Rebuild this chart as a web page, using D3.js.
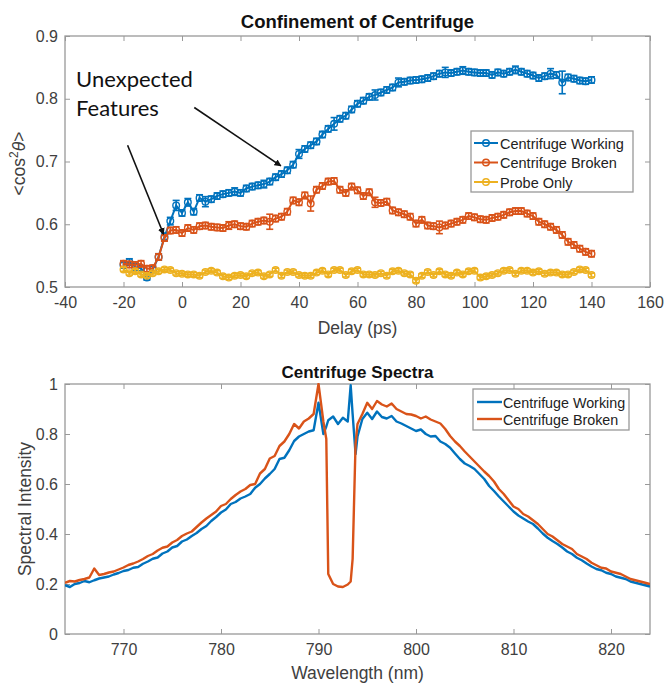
<!DOCTYPE html>
<html>
<head>
<meta charset="utf-8">
<script src="https://cdn.jsdelivr.net/npm/d3@7"></script>
<style>
  body { margin: 0; background: #fff; }
  svg { display: block; }
</style>
</head>
<body>
<div id="chart"></div>
<script>
// --- top panel: <cos^2 theta> vs delay ---
const delay = [-20, -18, -16, -14, -12, -10, -8, -6, -4, -2, 0, 2, 4, 6, 8, 10, 12, 14, 16, 18,
  20, 22, 24, 26, 28, 30, 32, 34, 36, 38, 40, 42, 44, 46, 48, 50, 52, 54, 56, 58,
  60, 62, 64, 66, 68, 70, 72, 74, 76, 78, 80, 82, 84, 86, 88, 90, 92, 94, 96, 98,
  100, 102, 104, 106, 108, 110, 112, 114, 116, 118, 120, 122, 124, 126, 128, 130, 132, 134, 136, 138, 140];

const working = [.535, .540, .532, .530, .515, .528, .548, .580, .605, .630, .618, .635, .620, .642, .636, .640, .645, .648, .650, .652,
  .650, .657, .660, .662, .664, .668, .675, .680, .686, .695, .712, .720, .726, .732, .743, .752, .760, .768, .773, .783,
  .792, .797, .803, .806, .810, .814, .818, .826, .827, .829, .830, .831, .833, .836, .840, .842, .841, .843, .845, .843,
  .842, .841, .841, .838, .842, .840, .843, .846, .843, .840, .837, .833, .836, .840, .838, .826, .834, .832, .829, .828, .830];
const workingErr = [.005, .005, .005, .004, .004, .005, .005, .006, .006, .008, .005, .006, .005, .005, .008, .005, .005, .005, .005, .006,
  .005, .005, .005, .005, .006, .005, .005, .005, .005, .005, .007, .005, .005, .005, .005, .005, .010, .005, .005, .005,
  .005, .005, .005, .008, .005, .005, .005, .007, .005, .005, .005, .005, .005, .005, .005, .008, .005, .005, .006, .005,
  .005, .005, .005, .005, .005, .005, .005, .006, .005, .005, .005, .005, .005, .008, .005, .018, .005, .005, .005, .005, .005];

const broken = [.537, .536, .535, .537, .529, .530, .548, .578, .590, .591, .586, .594, .591, .597, .598, .596, .595, .594, .598, .600,
  .597, .596, .601, .604, .606, .604, .609, .612, .620, .638, .635, .646, .633, .655, .661, .668, .669, .655, .650, .660,
  .654, .645, .651, .635, .634, .636, .622, .619, .616, .612, .601, .607, .598, .597, .595, .598, .601, .604, .607, .613,
  .611, .608, .607, .610, .612, .615, .619, .621, .621, .617, .613, .604, .600, .596, .591, .583, .572, .567, .561, .556, .553];
const brokenErr = [.005, .005, .005, .005, .005, .005, .005, .005, .005, .005, .005, .005, .005, .005, .005, .005, .005, .005, .006, .005,
  .005, .005, .005, .005, .005, .012, .005, .005, .005, .005, .005, .005, .012, .005, .005, .005, .005, .005, .005, .005,
  .005, .005, .005, .008, .005, .005, .005, .005, .005, .005, .005, .005, .005, .005, .010, .005, .005, .005, .005, .005,
  .005, .005, .005, .005, .005, .005, .005, .005, .005, .005, .005, .005, .005, .005, .005, .005, .005, .005, .005, .005, .005];

const probe = [.528, .522, .525, .520, .518, .522, .525, .528, .527, .522, .521, .520, .520, .518, .524, .526, .523, .517, .515, .518,
  .519, .517, .522, .523, .517, .520, .527, .518, .524, .524, .519, .518, .518, .523, .526, .520, .527, .527, .519, .525,
  .527, .520, .520, .519, .522, .518, .525, .526, .522, .520, .510, .518, .524, .519, .525, .520, .518, .523, .520, .525,
  .526, .515, .517, .519, .522, .526, .527, .521, .526, .526, .523, .525, .521, .523, .523, .520, .520, .524, .528, .527, .519];
const probeErr = delay.map(() => .003);

const delayTicks = [-40, -20, 0, 20, 40, 60, 80, 100, 120, 140, 160];
const cosTicks = [0.5, 0.6, 0.7, 0.8, 0.9];

// --- bottom panel: spectra ---
const wavelength = [764, 764.5, 765, 765.5, 766, 766.5, 767, 767.5, 768, 768.5, 769, 769.5,
  770, 770.5, 771, 771.5, 772, 772.5, 773, 773.5, 774, 774.5, 775, 775.5, 776, 776.5, 777, 777.5,
  778, 778.5, 779, 779.5, 780, 780.5, 781, 781.5, 782, 782.5, 783, 783.5, 784, 784.5, 785, 785.5,
  786, 786.5, 787, 787.5, 788, 788.5, 789, 789.5, 790,
  790.5, 790.8, 791, 791.5, 792, 792.5, 793, 793.3, 793.5, 793.8, 794,
  794.5, 795, 795.5, 796, 796.5, 797, 797.5, 798, 798.5, 799, 799.5, 800, 800.5, 801, 801.5,
  802, 802.5, 803, 803.5, 804, 804.5, 805, 805.5, 806, 806.5, 807, 807.5, 808, 808.5, 809, 809.5,
  810, 810.5, 811, 811.5, 812, 812.5, 813, 813.5, 814, 814.5, 815, 815.5, 816, 816.5, 817, 817.5,
  818, 818.5, 819, 819.5, 820, 820.5, 821, 821.5, 822, 822.5, 823, 823.5, 824];

const specWorking = [.195, .188, .200, .204, .212, .207, .215, .222, .226, .230, .238, .244,
  .252, .256, .265, .268, .281, .290, .301, .306, .322, .330, .346, .352, .370, .378, .392, .404,
  .420, .432, .452, .468, .486, .498, .520, .528, .542, .550, .560, .585, .600, .622, .640, .660,
  .700, .705, .735, .772, .790, .800, .810, .815, .925,
  .800, .830, .855, .870, .840, .865, .850, .995, .880, .720, .790,
  .860, .885, .860, .890, .868, .862, .872, .850, .842, .832, .822, .812, .818, .800, .790,
  .792, .770, .760, .745, .722, .700, .682, .672, .660, .640, .620, .592, .572, .550, .530, .510,
  .490, .474, .462, .450, .440, .422, .402, .385, .372, .360, .346, .330, .320, .305, .295, .282,
  .270, .260, .255, .245, .240, .230, .225, .220, .210, .205, .200, .195, .190];

const specBroken = [.205, .212, .210, .216, .220, .226, .262, .236, .240, .246, .250, .258,
  .266, .276, .282, .290, .300, .312, .320, .334, .345, .350, .366, .376, .392, .402, .410, .428,
  .446, .462, .476, .490, .512, .520, .540, .556, .570, .580, .596, .600, .642, .660, .702, .712,
  .752, .770, .800, .840, .822, .850, .862, .880, 1.0,
  .850, .780, .240, .200, .190, .188, .198, .210, .300, .760, .840,
  .880, .925, .900, .932, .918, .910, .922, .900, .890, .880, .878, .872, .862, .870, .858,
  .850, .842, .820, .792, .770, .752, .730, .710, .690, .670, .650, .632, .610, .580, .560, .535,
  .510, .500, .480, .470, .455, .440, .420, .400, .390, .375, .360, .350, .340, .320, .310, .300,
  .285, .275, .265, .262, .250, .245, .240, .230, .220, .215, .210, .205, .200];

const waveTicks = [770, 780, 790, 800, 810, 820];
const intensityTicks = [0, 0.2, 0.4, 0.6, 0.8, 1];

const colors = { blue: '#0072BD', orange: '#D95319', yellow: '#EDB120' };
const font = '"Liberation Sans", Arial, sans-serif';

const svg = d3.select('#chart')
  .append('svg')
  .attr('width', 665)
  .attr('height', 684)
  .style('font-family', font);

svg.append('defs').append('marker')
  .attr('id', 'arrow')
  .attr('viewBox', '0 0 10 10')
  .attr('refX', 9).attr('refY', 5)
  .attr('markerWidth', 7).attr('markerHeight', 7)
  .attr('markerUnits', 'userSpaceOnUse')
  .attr('orient', 'auto')
  .append('path')
  .attr('d', 'M0,0 L10,5 L0,10 z')
  .attr('fill', '#111');

// builds one MATLAB-like axes box and returns the scales
function makePanel(box, xDomain, yDomain, xTicks, yTicks, id) {
  const x = d3.scaleLinear().domain(xDomain).range([box.left, box.right]);
  const y = d3.scaleLinear().domain(yDomain).range([box.bottom, box.top]);
  const g = svg.append('g');

  svg.select('defs').append('clipPath').attr('id', id)
    .append('rect')
    .attr('x', box.left).attr('y', box.top - 1)
    .attr('width', box.right - box.left).attr('height', box.bottom - box.top + 2);

  const fmt = d => String(d);
  const style = sel => {
    sel.select('.domain').remove();
    sel.selectAll('.tick line').attr('stroke', '#999').attr('stroke-width', 1);
    sel.selectAll('.tick text').attr('fill', '#404040').style('font-size', '16px').style('font-family', font);
  };

  g.append('g').attr('transform', `translate(0,${box.bottom})`)
    .call(d3.axisBottom(x).tickValues(xTicks).tickFormat(fmt).tickSizeInner(-5).tickSizeOuter(0).tickPadding(10))
    .call(style);
  g.append('g').attr('transform', `translate(0,${box.top})`)
    .call(d3.axisTop(x).tickValues(xTicks).tickFormat('').tickSizeInner(-5).tickSizeOuter(0))
    .call(style);
  g.append('g').attr('transform', `translate(${box.left},0)`)
    .call(d3.axisLeft(y).tickValues(yTicks).tickFormat(fmt).tickSizeInner(-5).tickSizeOuter(0).tickPadding(7))
    .call(style);
  g.append('g').attr('transform', `translate(${box.right},0)`)
    .call(d3.axisRight(y).tickValues(yTicks).tickFormat('').tickSizeInner(-5).tickSizeOuter(0))
    .call(style);

  g.append('rect')
    .attr('x', box.left).attr('y', box.top)
    .attr('width', box.right - box.left).attr('height', box.bottom - box.top)
    .attr('fill', 'none').attr('stroke', '#999').attr('stroke-width', 1.3);

  const plot = svg.append('g').attr('clip-path', `url(#${id})`);
  return { x, y, g, plot, box };
}

// ---------- top panel ----------
const upper = makePanel({ left: 65, right: 650, top: 36, bottom: 287 }, [-40, 160], [0.5, 0.9], delayTicks, cosTicks, 'clipTop');

const series = [
  { name: 'Centrifuge Working', values: working, err: workingErr, color: colors.blue },
  { name: 'Centrifuge Broken', values: broken, err: brokenErr, color: colors.orange },
  { name: 'Probe Only', values: probe, err: probeErr, color: colors.yellow }
];

series.forEach(s => {
  const pts = delay.map((d, i) => ({ x: d, v: s.values[i], e: s.err[i] }));
  const grp = upper.plot.append('g');

  grp.append('path')
    .datum(pts)
    .attr('fill', 'none')
    .attr('stroke', s.color)
    .attr('stroke-width', 2)
    .attr('d', d3.line().x(d => upper.x(d.x)).y(d => upper.y(d.v)));

  const bars = grp.selectAll('.bar').data(pts).enter().append('g');
  bars.append('line')
    .attr('x1', d => upper.x(d.x)).attr('x2', d => upper.x(d.x))
    .attr('y1', d => upper.y(d.v - d.e)).attr('y2', d => upper.y(d.v + d.e))
    .attr('stroke', s.color).attr('stroke-width', 1.6);
  [-1, 1].forEach(sign => {
    bars.append('line')
      .attr('x1', d => upper.x(d.x) - 3.5).attr('x2', d => upper.x(d.x) + 3.5)
      .attr('y1', d => upper.y(d.v + sign * d.e)).attr('y2', d => upper.y(d.v + sign * d.e))
      .attr('stroke', s.color).attr('stroke-width', 1.6);
  });

  grp.selectAll('circle').data(pts).enter().append('circle')
    .attr('cx', d => upper.x(d.x))
    .attr('cy', d => upper.y(d.v))
    .attr('r', 3.3)
    .attr('fill', 'none')
    .attr('stroke', s.color)
    .attr('stroke-width', 1.4);
});

svg.append('text')
  .attr('x', (upper.box.left + upper.box.right) / 2).attr('y', 28)
  .attr('text-anchor', 'middle')
  .style('font-size', '18.5px').style('font-weight', 'bold')
  .attr('fill', '#111')
  .text('Confinement of Centrifuge');

svg.append('text')
  .attr('x', (upper.box.left + upper.box.right) / 2).attr('y', 334)
  .attr('text-anchor', 'middle')
  .style('font-size', '17.5px')
  .attr('fill', '#404040')
  .text('Delay (ps)');

const yLab = svg.append('text')
  .attr('transform', `translate(25,${(upper.box.top + upper.box.bottom) / 2 + 2}) rotate(-90)`)
  .attr('text-anchor', 'middle')
  .style('font-size', '17.5px')
  .attr('fill', '#404040');
yLab.append('tspan').text('<cos');
yLab.append('tspan').attr('dy', -7).style('font-size', '12px').text('2');
yLab.append('tspan').attr('dy', 7).style('font-style', 'italic').text('θ');
yLab.append('tspan').text('>');

// legend (top)
const legTop = svg.append('g').attr('transform', 'translate(471,131)');
legTop.append('rect').attr('width', 162).attr('height', 61)
  .attr('fill', '#fff').attr('stroke', '#999').attr('stroke-width', 1.3);
series.forEach((s, i) => {
  const row = legTop.append('g').attr('transform', `translate(0,${12 + i * 19.5})`);
  row.append('line').attr('x1', 3).attr('x2', 27).attr('stroke', s.color).attr('stroke-width', 2);
  row.append('circle').attr('cx', 15).attr('r', 3.3).attr('fill', 'none').attr('stroke', s.color).attr('stroke-width', 1.4);
  row.append('text').attr('x', 29).attr('y', 5.5)
    .style('font-size', '14.5px').attr('fill', '#222').text(s.name);
});

// annotations
const note = svg.append('g').style('font-family', 'Lato, "Open Sans", sans-serif').attr('fill', '#111');
note.append('text').attr('x', upper.x(-36.2)).attr('y', upper.y(0.819)).style('font-size', '22px').text('Unexpected');
note.append('text').attr('x', upper.x(-36.2)).attr('y', upper.y(0.772)).style('font-size', '22px').text('Features');
[
  [[4.2, 0.786], [33.8, 0.693]],
  [[-18.6, 0.726], [-6.3, 0.584]]
].forEach(([a, b]) => {
  svg.append('line')
    .attr('x1', upper.x(a[0])).attr('y1', upper.y(a[1]))
    .attr('x2', upper.x(b[0])).attr('y2', upper.y(b[1]))
    .attr('stroke', '#111').attr('stroke-width', 1.6)
    .attr('marker-end', 'url(#arrow)');
});

// ---------- bottom panel ----------
const lower = makePanel({ left: 65, right: 650, top: 384, bottom: 634 }, [764, 824], [0, 1], waveTicks, intensityTicks, 'clipBot');

const spectra = [
  { name: 'Centrifuge Working', values: specWorking, color: colors.blue },
  { name: 'Centrifuge Broken', values: specBroken, color: colors.orange }
];

spectra.forEach(s => {
  lower.plot.append('path')
    .datum(wavelength.map((w, i) => [w, s.values[i]]))
    .attr('fill', 'none')
    .attr('stroke', s.color)
    .attr('stroke-width', 2.4)
    .attr('stroke-linejoin', 'round')
    .attr('d', d3.line().x(d => lower.x(d[0])).y(d => lower.y(d[1])));
});

svg.append('text')
  .attr('x', (lower.box.left + lower.box.right) / 2).attr('y', 378)
  .attr('text-anchor', 'middle')
  .style('font-size', '17px').style('font-weight', 'bold')
  .attr('fill', '#111')
  .text('Centrifuge Spectra');

svg.append('text')
  .attr('x', (lower.box.left + lower.box.right) / 2).attr('y', 679)
  .attr('text-anchor', 'middle')
  .style('font-size', '17.5px')
  .attr('fill', '#404040')
  .text('Wavelength (nm)');

svg.append('text')
  .attr('transform', `translate(31,${(lower.box.top + lower.box.bottom) / 2}) rotate(-90)`)
  .attr('text-anchor', 'middle')
  .style('font-size', '17.5px')
  .attr('fill', '#404040')
  .text('Spectral Intensity');

// legend (bottom)
const legBot = svg.append('g').attr('transform', 'translate(473,389)');
legBot.append('rect').attr('width', 156).attr('height', 41)
  .attr('fill', '#fff').attr('stroke', '#999').attr('stroke-width', 1.3);
spectra.forEach((s, i) => {
  const row = legBot.append('g').attr('transform', `translate(0,${13 + i * 17})`);
  row.append('line').attr('x1', 4).attr('x2', 29).attr('stroke', s.color).attr('stroke-width', 2.4);
  row.append('text').attr('x', 30).attr('y', 5.5)
    .style('font-size', '14.3px').attr('fill', '#222').text(s.name);
});
</script>
</body>
</html>
